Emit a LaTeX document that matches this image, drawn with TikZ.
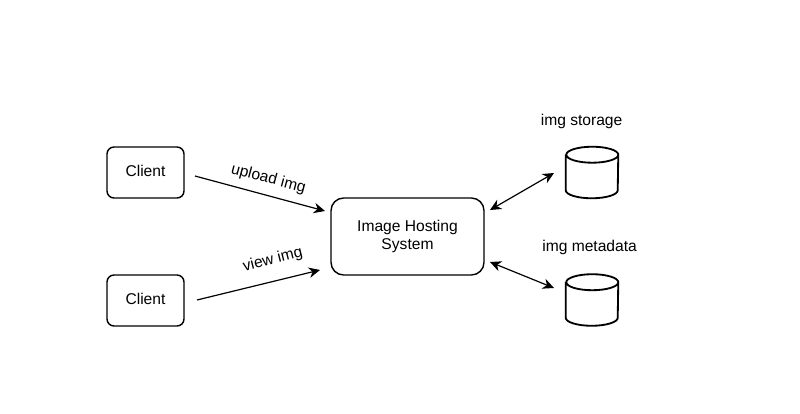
\documentclass[tikz,border=0pt]{standalone}
\usepackage{fontspec}
\setmainfont{Liberation Sans}
\usetikzlibrary{backgrounds,arrows.meta}
\pgfdeclarelayer{edgelayer}
\pgfdeclarelayer{nodelayer}
\pgfsetlayers{edgelayer,nodelayer,main}
\tikzset{font=\fontsize{11.1}{13}\selectfont}
\tikzstyle{none}=[inner sep=0pt]
\tikzstyle{client}=[draw,line width=1pt,rounded corners=5pt,minimum width=1.925cm,minimum height=1.275cm,inner sep=0pt,text depth=0.1cm]
\tikzstyle{server}=[draw,line width=1pt,rounded corners=9pt,minimum width=3.825cm,minimum height=1.925cm,inner sep=0pt,align=center]
\tikzstyle{store}=[minimum width=1.3cm,minimum height=1.275cm,inner sep=0pt]
\tikzstyle{drum}=[line width=1.3pt,line join=round]
\tikzstyle{caption}=[inner sep=0pt]
\tikzstyle{flow}=[line width=0.85pt,-{Stealth[length=8pt,width=7.5pt]}]
\tikzstyle{sync}=[line width=0.85pt,{Stealth[length=8pt,width=7.5pt]}-{Stealth[length=8pt,width=7.5pt]}]

\begin{document}
\begin{tikzpicture}
	\useasboundingbox (0, 0) rectangle (20, 10.325);
	\begin{pgfonlayer}{nodelayer}
		\node [style=client] (client1) at (3.6375, 6.0125) {Client};
		\node [style=client] (client2) at (3.6375, 2.8125) {Client};
		\node [style=server] (host) at (10.1875, 4.4125) {Image Hosting\\System};
		\node [style=store] (storage) at (14.8, 6.0125) {};
		\node [style=store] (metadata) at (14.8, 2.825) {};
		\node [style=caption] (storagelabel) at (14.54, 7.3) {img storage};
		\node [style=caption] (metadatalabel) at (14.74, 4.13) {img metadata};
		\node [style=caption, rotate=-15] (uploadlabel) at (6.71, 5.85) {upload img};
		\node [style=caption, rotate=14] (viewlabel) at (6.82, 3.83) {view img};
		\node [style=none] (0) at (4.875, 5.925) {};
		\node [style=none] (1) at (8.125, 5.05) {};
		\node [style=none] (2) at (4.925, 2.825) {};
		\node [style=none] (3) at (8, 3.575) {};
		\node [style=none] (4) at (12.25, 5.075) {};
		\node [style=none] (5) at (13.85, 6) {};
		\node [style=none] (6) at (12.25, 3.775) {};
		\node [style=none] (7) at (13.85, 3.125) {};
	\end{pgfonlayer}
	\begin{pgfonlayer}{edgelayer}
		\draw [style=flow] (0.center) to (1.center);
		\draw [style=flow] (2.center) to (3.center);
		\draw [style=sync] (4.center) to (5.center);
		\draw [style=sync] (6.center) to (7.center);
		\foreach \n in {storage, metadata} {
			\draw [style=drum] ([yshift=-0.2cm]\n.north west) -- ([yshift=0.2cm]\n.south west) arc (180:360:0.65 and 0.2) -- ([yshift=-0.2cm]\n.north east) arc (0:180:0.65 and 0.2) arc (180:360:0.65 and 0.2);
		}
	\end{pgfonlayer}
\end{tikzpicture}
\end{document}
